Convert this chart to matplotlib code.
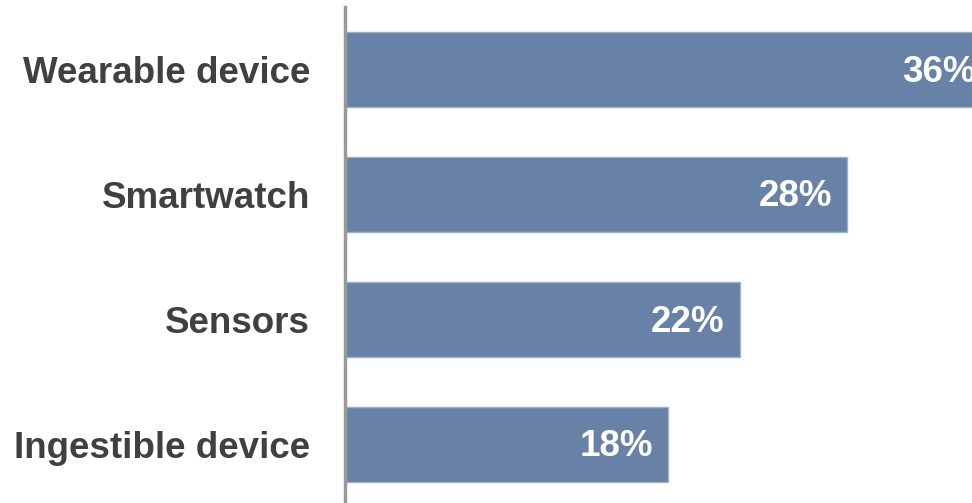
import matplotlib.pyplot as plt

categories = ["Wearable device", "Smartwatch", "Sensors", "Ingestible device"]
values = [36, 28, 22, 18]
labels = ["36%", "28%", "22%", "18%"]

plt.rcParams['font.family'] = ['Liberation Sans', 'DejaVu Sans']

fig = plt.figure(figsize=(9.72, 5.03), dpi=100)
# axes left edge at the grey line; 36% runs a bit past the right border
ax = fig.add_axes([345 / 972, -4 / 503, 646 / 972, 500 / 503])

ypos = list(range(len(categories)))
ax.barh(ypos, values, height=0.6, color="#6782a6", edgecolor="#9fb0c9", linewidth=1)

for y, v, lab in zip(ypos, values, labels):
    ax.text(v - 0.85, y + 0.02, lab, ha="right", va="center", color="white",
            fontsize=26.5, fontweight="bold")

ax.set_xlim(0, 36)
ax.set_ylim(3.5, -0.5)
ax.set_yticks(ypos)
ax.set_yticklabels(categories, fontsize=26.5, fontweight="bold", color="#404040")
ax.tick_params(axis="y", length=0, pad=25)
ax.set_xticks([])
for s in ["top", "right", "bottom"]:
    ax.spines[s].set_visible(False)
ax.spines["left"].set_color("#999999")
ax.spines["left"].set_linewidth(2.5)

fig.savefig("out.png", dpi=100)
